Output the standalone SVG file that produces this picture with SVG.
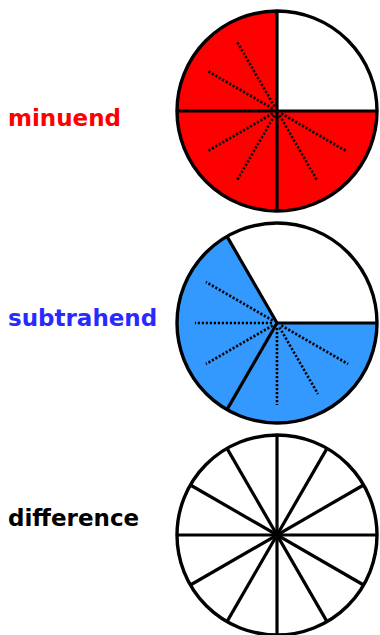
<svg xmlns="http://www.w3.org/2000/svg" width="380" height="635" viewBox="0 0 380 635">
<style>
.lbl{font-family:"DejaVu Sans",Verdana,sans-serif;font-weight:bold;font-size:23px}
.edge{fill:none;stroke:#000;stroke-width:3.4}
.spoke{stroke:#000;stroke-width:3.2;stroke-linecap:butt}
.dot{stroke:#000;stroke-width:2.6;stroke-dasharray:2.2 1.8}
</style>
<rect width="380" height="635" fill="#fff"/>
<g id="minuend">
<text class="lbl" x="8" y="126" fill="#ff0000">minuend</text>
<circle cx="277" cy="111" r="100" fill="#ff0000"/>
<path d="M277,111 L377,111 A100,100 0 0 0 277,11 Z" fill="#fff"/>
<g transform="translate(277,111)">
<line class="dot" x1="5" y1="0" x2="81" y2="0" transform="rotate(-120)"/>
<line class="dot" x1="5" y1="0" x2="81" y2="0" transform="rotate(-150)"/>
<line class="dot" x1="5" y1="0" x2="81" y2="0" transform="rotate(-210)"/>
<line class="dot" x1="5" y1="0" x2="81" y2="0" transform="rotate(-240)"/>
<line class="dot" x1="5" y1="0" x2="81" y2="0" transform="rotate(-300)"/>
<line class="dot" x1="5" y1="0" x2="81" y2="0" transform="rotate(-330)"/>
<line class="spoke" x1="-100" y1="0" x2="100" y2="0"/>
<line class="spoke" x1="0" y1="-100" x2="0" y2="100"/>
</g>
<circle class="edge" cx="277" cy="111" r="100"/>
</g>
<g id="subtrahend">
<text class="lbl" x="8" y="326" fill="#2a2aff">subtrahend</text>
<circle cx="277" cy="323" r="100" fill="#3399ff"/>
<path d="M277,323 L377,323 A100,100 0 0 0 227,236.4 Z" fill="#fff"/>
<g transform="translate(277,323)">
<line class="dot" x1="5" y1="0" x2="82" y2="0" transform="rotate(-150)"/>
<line class="dot" x1="5" y1="0" x2="82" y2="0" transform="rotate(-180)"/>
<line class="dot" x1="5" y1="0" x2="82" y2="0" transform="rotate(-210)"/>
<line class="dot" x1="5" y1="0" x2="82" y2="0" transform="rotate(-270)"/>
<line class="dot" x1="5" y1="0" x2="82" y2="0" transform="rotate(-300)"/>
<line class="dot" x1="5" y1="0" x2="82" y2="0" transform="rotate(-330)"/>
<line class="spoke" x1="0" y1="0" x2="100" y2="0"/>
<line class="spoke" x1="0" y1="0" x2="100" y2="0" transform="rotate(-120)"/>
<line class="spoke" x1="0" y1="0" x2="100" y2="0" transform="rotate(-240)"/>
</g>
<circle class="edge" cx="277" cy="323" r="100"/>
</g>
<g id="difference">
<text class="lbl" x="8" y="526" fill="#000">difference</text>
<circle cx="277" cy="535" r="100" fill="#fff"/>
<g transform="translate(277,535)">
<line class="spoke" x1="-100" y1="0" x2="100" y2="0"/>
<line class="spoke" x1="-100" y1="0" x2="100" y2="0" transform="rotate(30)"/>
<line class="spoke" x1="-100" y1="0" x2="100" y2="0" transform="rotate(60)"/>
<line class="spoke" x1="-100" y1="0" x2="100" y2="0" transform="rotate(90)"/>
<line class="spoke" x1="-100" y1="0" x2="100" y2="0" transform="rotate(120)"/>
<line class="spoke" x1="-100" y1="0" x2="100" y2="0" transform="rotate(150)"/>
<circle cx="0" cy="0" r="4" fill="#000"/>
</g>
<circle class="edge" cx="277" cy="535" r="100"/>
</g>
<g id="connectors"></g>
</svg>
